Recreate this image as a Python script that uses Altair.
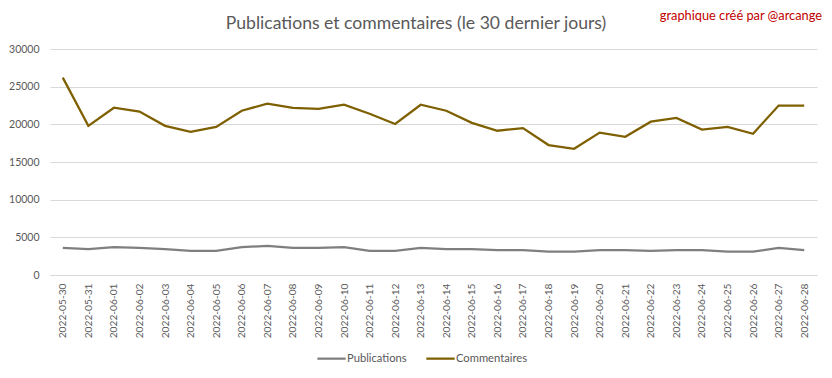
import altair as alt
import pandas as pd

dates = [
    "2022-05-30", "2022-05-31", "2022-06-01", "2022-06-02", "2022-06-03", "2022-06-04",
    "2022-06-05", "2022-06-06", "2022-06-07", "2022-06-08", "2022-06-09", "2022-06-10",
    "2022-06-11", "2022-06-12", "2022-06-13", "2022-06-14", "2022-06-15", "2022-06-16",
    "2022-06-17", "2022-06-18", "2022-06-19", "2022-06-20", "2022-06-21", "2022-06-22",
    "2022-06-23", "2022-06-24", "2022-06-25", "2022-06-26", "2022-06-27", "2022-06-28",
]
publications = [
    3600, 3450, 3700, 3600, 3450, 3200, 3200, 3700, 3850, 3600, 3600, 3700, 3200, 3200,
    3600, 3450, 3450, 3300, 3300, 3100, 3100, 3300, 3300, 3200, 3300, 3300, 3100, 3100,
    3600, 3300,
]
commentaires = [
    26200, 19800, 22200, 21700, 19800, 19000, 19650, 21800, 22750, 22200, 22050, 22600,
    21400, 20050, 22600, 21800, 20200, 19150, 19500, 17250, 16750, 18900, 18350, 20350,
    20850, 19300, 19650, 18750, 22500, 22500,
]
series_names = ["Publications", "Commentaires"]
series_colors = ["#7F7F7F", "#7F6000"]
y_ticks = [0, 5000, 10000, 15000, 20000, 25000, 30000]
title_text = ["Publications et commentaires (le 30 dernier jours)"]
note_text = ["graphique créé par @arcange"]

rows = []
for d, p, c in zip(dates, publications, commentaires):
    rows.append({"date": d, "serie": series_names[0], "valeur": p})
    rows.append({"date": d, "serie": series_names[1], "valeur": c})
df = pd.DataFrame(rows)

FONT = "Lato"
GREY = "#595959"

lines = alt.Chart(df).mark_line(strokeWidth=2.25).encode(
    x=alt.X(
        "date:N",
        sort=dates,
        title=None,
        scale=alt.Scale(type="point", padding=0.5),
        axis=alt.Axis(
            labelAngle=-90,
            labelAlign="right",
            labelBaseline="middle",
            labelFont=FONT,
            labelFontSize=10.2,
            labelColor=GREY,
            ticks=False,
            domainColor="#D9D9D9",
            grid=False,
            labelPadding=8,
        ),
    ),
    y=alt.Y(
        "valeur:Q",
        title=None,
        scale=alt.Scale(domain=[0, 30000], nice=False),
        axis=alt.Axis(
            values=y_ticks,
            format="d",
            domain=False,
            ticks=False,
            labelFont=FONT,
            labelFontSize=10.5,
            labelColor=GREY,
            labelPadding=11,
            gridColor="#D9D9D9",
            gridWidth=1,
        ),
    ),
    color=alt.Color(
        "serie:N",
        sort=series_names,
        scale=alt.Scale(domain=series_names, range=series_colors),
        legend=alt.Legend(
            title=None,
            orient="none",
            direction="horizontal",
            legendX=266,
            legendY=294,
            symbolType="stroke",
            symbolStrokeWidth=2.25,
            symbolSize=800,
            labelFont=FONT,
            labelFontSize=11.2,
            labelColor=GREY,
            columnPadding=14,
            labelOffset=0,
        ),
    ),
)

title = alt.Chart(pd.DataFrame({"t": title_text})).mark_text(
    align="center", baseline="middle", font=FONT, fontSize=17.6, color=GREY
).encode(x=alt.value(366), y=alt.value(-25), text="t:N")

note = alt.Chart(pd.DataFrame({"t": note_text})).mark_text(
    align="right", baseline="middle", font=FONT, fontSize=12.8, color="#C00000"
).encode(x=alt.value(772), y=alt.value(-33), text="t:N")

chart = alt.layer(lines, title, note).properties(
    width=767,
    height=226,
    autosize=alt.AutoSizeParams(type="none"),
    padding={"left": 42, "top": 41, "right": 7, "bottom": 95},
).configure_view(stroke=None)

chart.save("out.html", embed_options={"renderer": "svg", "actions": False})
